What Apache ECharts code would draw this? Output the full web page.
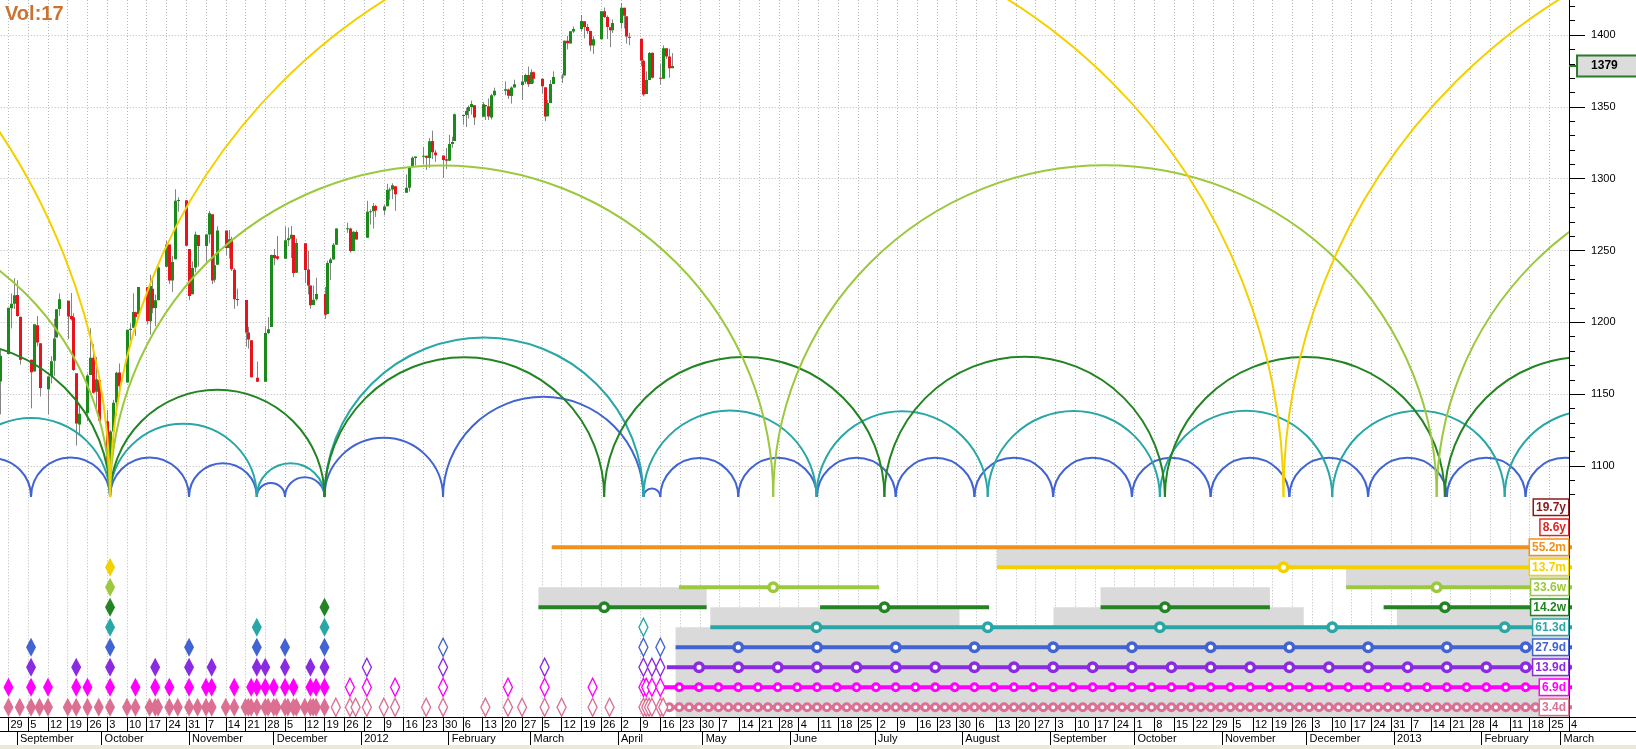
<!DOCTYPE html>
<html><head><meta charset="utf-8">
<script src="https://cdn.jsdelivr.net/npm/echarts@6/dist/echarts.min.js"></script>
<style>html,body{margin:0;padding:0;background:#fff;overflow:hidden}#c{width:1636px;height:749px}</style>
</head><body><div id="c"></div>
<script>
// ---------------- DATA ----------------
// day offsets are counted from this Monday
const ORIGIN = '2011-08-29';

// daily candles: [date, open, high, low, close]
const candles = [
['2011-08-26',1158.85,1181.23,1135.91,1176.80],['2011-08-29',1177.91,1210.08,1177.91,1210.08],['2011-08-30',1209.76,1220.10,1195.77,1212.92],
['2011-08-31',1213.00,1230.71,1209.35,1218.89],['2011-09-01',1219.12,1229.29,1203.85,1204.42],['2011-09-02',1203.90,1203.90,1170.56,1173.97],
['2011-09-06',1173.97,1173.97,1140.13,1165.24],['2011-09-07',1165.85,1198.62,1165.85,1198.62],['2011-09-08',1197.98,1204.40,1183.34,1185.90],
['2011-09-09',1185.37,1185.37,1148.37,1154.23],['2011-09-12',1153.50,1162.52,1136.07,1162.27],['2011-09-13',1162.59,1176.41,1157.44,1172.87],
['2011-09-14',1173.32,1202.38,1162.73,1188.68],['2011-09-15',1189.44,1209.11,1189.44,1209.11],['2011-09-16',1209.21,1220.06,1204.46,1216.01],
['2011-09-19',1214.99,1214.99,1188.36,1204.09],['2011-09-20',1204.50,1220.39,1201.29,1202.09],['2011-09-21',1203.63,1206.30,1166.21,1166.76],
['2011-09-22',1164.55,1164.55,1114.22,1129.56],['2011-09-23',1128.82,1141.72,1121.36,1136.43],['2011-09-26',1136.91,1164.19,1131.07,1162.95],
['2011-09-27',1163.32,1195.86,1163.32,1175.38],['2011-09-28',1175.39,1184.71,1150.40,1151.06],['2011-09-29',1151.74,1175.87,1139.93,1160.40],
['2011-09-30',1159.93,1159.93,1131.34,1131.42],['2011-10-03',1131.21,1138.99,1098.92,1099.23],['2011-10-04',1097.42,1125.12,1074.77,1123.95],
['2011-10-05',1124.03,1146.07,1115.68,1144.03],['2011-10-06',1144.11,1165.55,1134.95,1164.97],['2011-10-07',1165.03,1171.40,1150.26,1155.46],
['2011-10-10',1158.15,1194.91,1158.15,1194.89],['2011-10-11',1194.60,1199.24,1187.30,1195.54],['2011-10-12',1196.19,1220.25,1196.19,1207.25],
['2011-10-13',1206.96,1207.46,1190.58,1203.66],['2011-10-14',1205.65,1224.61,1205.65,1224.58],['2011-10-17',1224.47,1224.47,1198.55,1200.86],
['2011-10-18',1200.75,1233.10,1191.48,1225.38],['2011-10-19',1223.46,1229.64,1206.31,1209.88],['2011-10-20',1209.92,1219.36,1197.34,1215.39],
['2011-10-21',1215.39,1239.03,1215.39,1238.25],['2011-10-24',1238.72,1256.55,1238.72,1254.19],['2011-10-25',1254.19,1254.19,1226.79,1229.05],
['2011-10-26',1229.17,1246.28,1221.06,1242.00],['2011-10-27',1243.97,1292.66,1243.97,1284.59],['2011-10-28',1284.39,1287.08,1277.01,1285.09],
['2011-10-31',1284.96,1284.96,1253.16,1253.30],['2011-11-01',1251.00,1251.00,1215.42,1218.28],['2011-11-02',1219.62,1242.48,1219.62,1237.90],
['2011-11-03',1238.25,1263.21,1234.81,1261.15],['2011-11-04',1260.82,1260.82,1238.92,1253.23],['2011-11-07',1253.21,1261.70,1240.75,1261.12],
['2011-11-08',1261.12,1277.55,1254.99,1275.92],['2011-11-09',1275.18,1275.18,1226.64,1229.10],['2011-11-10',1229.59,1246.22,1227.70,1239.70],
['2011-11-11',1240.12,1266.98,1240.12,1263.85],['2011-11-14',1263.85,1263.85,1246.68,1251.78],['2011-11-15',1251.70,1264.25,1244.34,1257.81],
['2011-11-16',1257.81,1259.61,1235.67,1236.91],['2011-11-17',1236.56,1237.73,1209.43,1216.13],['2011-11-18',1216.19,1223.51,1211.36,1215.65],
['2011-11-21',1215.62,1215.62,1183.16,1192.98],['2011-11-22',1192.98,1196.81,1181.65,1188.04],['2011-11-23',1187.48,1187.48,1161.79,1161.79],
['2011-11-25',1161.41,1172.66,1158.66,1158.67],['2011-11-28',1158.67,1197.35,1158.67,1192.55],['2011-11-29',1192.56,1203.67,1191.80,1195.19],
['2011-11-30',1196.72,1247.11,1196.72,1246.96],['2011-12-01',1246.91,1251.09,1239.73,1244.58],['2011-12-02',1246.03,1260.08,1243.35,1244.28],
['2011-12-05',1244.33,1266.73,1244.33,1257.08],['2011-12-06',1257.19,1266.03,1253.03,1258.47],['2011-12-07',1258.14,1267.06,1244.80,1261.01],
['2011-12-08',1260.87,1260.87,1231.47,1234.35],['2011-12-09',1234.48,1258.25,1234.48,1255.19],['2011-12-12',1255.05,1255.05,1227.25,1236.47],
['2011-12-13',1236.83,1249.86,1219.43,1225.73],['2011-12-14',1225.73,1225.73,1209.47,1211.82],['2011-12-15',1212.12,1225.60,1212.12,1215.75],
['2011-12-16',1216.09,1231.04,1215.20,1219.66],['2011-12-19',1219.74,1224.57,1202.37,1205.35],['2011-12-20',1205.72,1242.82,1205.72,1241.30],
['2011-12-21',1241.25,1245.09,1229.51,1243.72],['2011-12-22',1243.72,1255.22,1243.72,1254.00],['2011-12-23',1254.00,1265.42,1254.00,1265.33],
['2011-12-27',1265.02,1269.37,1262.30,1265.43],['2011-12-28',1265.38,1265.85,1248.64,1249.64],['2011-12-29',1249.75,1263.54,1249.75,1263.02],
['2011-12-30',1262.82,1264.12,1257.46,1257.60],['2012-01-03',1258.86,1284.62,1258.86,1277.06],['2012-01-04',1277.03,1278.73,1268.10,1277.30],
['2012-01-05',1277.30,1283.05,1265.26,1281.06],['2012-01-06',1280.93,1281.84,1273.34,1277.81],['2012-01-09',1277.83,1281.99,1274.55,1280.70],
['2012-01-10',1280.77,1296.46,1280.77,1292.08],['2012-01-11',1292.02,1293.80,1285.41,1292.48],['2012-01-12',1292.48,1296.82,1285.77,1295.50],
['2012-01-13',1294.82,1294.82,1277.58,1289.09],['2012-01-17',1290.22,1303.00,1290.22,1293.67],['2012-01-18',1293.65,1308.11,1290.99,1308.04],
['2012-01-19',1308.07,1315.49,1308.07,1314.50],['2012-01-20',1314.49,1315.38,1309.17,1315.38],['2012-01-23',1315.29,1322.28,1309.89,1316.00],
['2012-01-24',1315.96,1315.96,1306.06,1314.65],['2012-01-25',1314.40,1328.30,1307.65,1326.06],['2012-01-26',1326.28,1333.47,1313.60,1318.43],
['2012-01-27',1318.25,1320.06,1311.72,1316.33],['2012-01-30',1316.16,1316.16,1300.49,1313.01],['2012-01-31',1313.53,1321.41,1306.69,1312.41],
['2012-02-01',1312.45,1330.52,1312.45,1324.09],['2012-02-02',1324.24,1329.19,1321.57,1325.54],['2012-02-03',1326.21,1345.34,1326.21,1344.90],
['2012-02-06',1344.32,1344.36,1337.52,1344.33],['2012-02-07',1344.33,1349.24,1335.92,1347.05],['2012-02-08',1347.04,1351.00,1341.95,1349.96],
['2012-02-09',1349.97,1354.32,1344.63,1351.95],['2012-02-10',1351.21,1351.21,1337.35,1342.64],['2012-02-13',1343.06,1353.35,1343.06,1351.77],
['2012-02-14',1351.30,1351.30,1340.83,1350.50],['2012-02-15',1350.52,1355.87,1340.80,1343.23],['2012-02-16',1342.61,1359.02,1341.22,1358.04],
['2012-02-17',1358.06,1363.40,1357.24,1361.23],['2012-02-21',1361.22,1367.76,1358.11,1362.21],['2012-02-22',1362.11,1362.70,1355.53,1357.66],
['2012-02-23',1357.53,1364.24,1352.28,1363.46],['2012-02-24',1363.46,1368.92,1363.46,1365.74],['2012-02-27',1365.20,1371.94,1354.92,1367.59],
['2012-02-28',1367.56,1373.09,1365.97,1372.18],['2012-02-29',1372.20,1378.04,1363.81,1365.68],['2012-03-01',1365.90,1376.17,1365.90,1374.09],
['2012-03-02',1374.09,1374.53,1366.42,1369.63],['2012-03-05',1369.59,1369.59,1359.13,1364.33],['2012-03-06',1363.63,1363.63,1340.03,1343.36],
['2012-03-07',1343.39,1354.85,1343.39,1352.63],['2012-03-08',1352.65,1368.72,1352.65,1365.91],['2012-03-09',1365.97,1374.76,1365.97,1370.87],
['2012-03-12',1370.78,1373.04,1366.69,1371.09],['2012-03-13',1371.92,1396.13,1371.92,1395.95],['2012-03-14',1395.95,1399.42,1389.97,1394.28],
['2012-03-15',1394.17,1402.63,1394.17,1402.60],['2012-03-16',1402.55,1405.88,1401.47,1404.17],['2012-03-19',1404.17,1414.00,1402.43,1409.75],
['2012-03-20',1409.59,1409.59,1397.68,1405.52],['2012-03-21',1405.52,1407.75,1400.64,1402.89],['2012-03-22',1402.89,1402.89,1388.73,1392.78],
['2012-03-23',1392.78,1399.18,1386.87,1397.11],['2012-03-26',1397.11,1416.58,1397.11,1416.51],['2012-03-27',1416.55,1419.15,1411.95,1412.52],
['2012-03-28',1412.52,1413.65,1397.20,1405.54],['2012-03-29',1405.39,1405.39,1391.56,1403.28],['2012-03-30',1403.31,1410.89,1401.42,1408.47],
['2012-04-02',1408.47,1422.38,1404.46,1419.04],['2012-04-03',1418.98,1419.00,1404.62,1413.38],['2012-04-04',1413.09,1413.09,1394.09,1398.96],
['2012-04-05',1398.79,1401.60,1392.92,1398.08],['2012-04-09',1397.45,1397.45,1378.24,1382.20],['2012-04-10',1382.18,1383.01,1357.38,1358.59],
['2012-04-11',1358.98,1374.71,1358.98,1368.71],['2012-04-12',1368.77,1388.13,1368.77,1387.57],['2012-04-13',1387.61,1387.61,1369.85,1370.26],
['2012-04-16',1370.27,1379.66,1365.38,1369.57],['2012-04-17',1369.57,1392.76,1369.57,1390.78],['2012-04-18',1390.78,1390.78,1383.29,1385.14],
['2012-04-19',1385.08,1390.46,1370.30,1376.92],['2012-04-20',1376.96,1387.40,1376.96,1378.53]
];

// price axis
const priceMin = 1078.2, priceMax = 1424.4;
const priceLabels = [1100, 1150, 1200, 1250, 1300, 1350, 1400];
const priceMinorTicks = [1080,1090,1100,1110,1120,1130,1140,1150,1160,1170,1180,1190,1200,1210,1220,1230,1240,1250,1260,1270,1280,1290,1300,1310,1320,1330,1340,1350,1360,1370,1380,1390,1400,1410,1420];
const arcBase = 1078.4;

// cycle troughs (day offsets from ORIGIN); arcs join consecutive troughs
const troughs13_7m = [-430, 36, 451.8, 867.5];
const troughs33_6w = [-167.4, 36, 271.0, 506.1, 741.0];
const troughs14_2w = [-73.5, 36, 112, 211.1, 310.4, 409.8, 509.0, 608.3];
const troughs61_3d = [-20, 36, 88, 112, 225, 286.3, 347.0, 408.0, 469.1, 530.2, 591.4];
const troughs27_9d = [-19.5, 8, 36, 64, 88, 98, 112, 154, 225, 231, 258.6, 286.5, 314.4, 342.3, 370.2, 398.1, 426.0, 453.9, 481.8, 509.7, 537.6, 565.5];

// lower panel rows
const rowLabels = ['19.7y','8.6y','55.2m','13.7m','33.6w','14.2w','61.3d','27.9d','13.9d','6.9d','3.4d'];
const rowColors = ['#8b1a1a','#e02424','#f0911e','#f5d000','#9bc83c','#238423','#29a6a6','#4164d2','#8a2be2','#ff00ff','#db7093'];

// projection segments: [row, start, end]
const segments = [
 [2, 192.5, 560], [3, 350.3, 560],
 [4, 237.6, 308.5], [4, 474.0, 560],
 [5, 187.8, 247.4], [5, 287.6, 347.5], [5, 387.0, 447.0], [5, 487.3, 560],
 [6, 248.7, 560], [7, 236.4, 560], [8, 233.3, 560], [9, 231.7, 560], [10, 232.9, 560]
];
// grey windows: [fromRow, toRow, start, end]
const greyBands = [
 [2, 3, 350.3, 560], [3, 4, 474.0, 560],
 [4, 5, 187.8, 247.4], [4, 5, 387.0, 447.0],
 [5, 6, 248.7, 337.0], [5, 6, 370.3, 459.0], [5, 6, 492.0, 560],
 [6, 10.5, 236.4, 560]
];
// projected trough rings per row
const ring13_7m = [451.8];
const ring33_6w = [271.0, 506.1];
const ring14_2w = [211.1, 310.4, 409.8, 509.0];
const ring61_3d = [286.3, 347.0, 408.0, 469.1, 530.2];
const ring27_9d = [258.6,286.5,314.4,342.3,370.2,398.1,426.0,453.9,481.8,509.7,537.6];
const ring13_9d = [244.7,258.6,272.6,286.5,300.5,314.4,328.4,342.3,356.3,370.2,384.2,398.1,412.1,426.0,440.0,453.9,467.9,481.8,495.8,509.7,523.7,537.6,551.6];
const ring6_9d = [237.7,244.7,251.6,258.6,265.6,272.6,279.5,286.5,293.5,300.5,307.4,314.4,321.4,328.4,335.3,342.3,349.3,356.3,363.2,370.2,377.2,384.2,391.1,398.1,405.1,412.1,419.0,426.0,433.0,440.0,446.9,453.9,460.9,467.9,474.8,481.8,488.8,495.8,502.7,509.7,516.7,523.7,530.6,537.6,544.6,551.6];
const ring3_4d = [234.2,237.7,241.2,244.7,248.1,251.6,255.1,258.6,262.1,265.6,269.1,272.6,276.0,279.5,283.0,286.5,290.0,293.5,297.0,300.5,303.9,307.4,310.9,314.4,317.9,321.4,324.9,328.4,331.8,335.3,338.8,342.3,345.8,349.3,352.8,356.3,359.7,363.2,366.7,370.2,373.7,377.2,380.7,384.2,387.6,391.1,394.6,398.1,401.6,405.1,408.6,412.1,415.5,419.0,422.5,426.0,429.5,433.0,436.5,440.0,443.4,446.9,450.4,453.9,457.4,460.9,464.4,467.9,471.3,474.8,478.3,481.8,485.3,488.8,492.3,495.8,499.2,502.7,506.2,509.7,513.2,516.7,520.2,523.7,527.1,530.6,534.1,537.6,541.1,544.6,548.1,551.6];

// past trough diamonds (filled = confirmed, hollow = tentative)
const dia13_7mFilled = ['2011-10-04'];
const dia33_6wFilled = ['2011-10-04'];
const dia14_2wFilled = ['2011-10-04','2011-12-19'];
const dia61_3dFilled = ['2011-10-04','2011-11-25','2011-12-19'];
const dia27_9dFilled = ['2011-09-06','2011-10-04','2011-11-01','2011-11-25','2011-12-05','2011-12-19'];
const dia13_9dFilled = ['2011-09-06','2011-09-22','2011-10-04','2011-10-20','2011-11-01','2011-11-09','2011-11-25','2011-11-28','2011-12-05','2011-12-14','2011-12-19'];
const dia6_9dFilled = ['2011-08-29','2011-09-06','2011-09-12','2011-09-22','2011-09-26','2011-10-04','2011-10-13','2011-10-20','2011-10-25','2011-11-01','2011-11-07','2011-11-09','2011-11-17','2011-11-23','2011-11-25','2011-11-28','2011-12-01','2011-12-05','2011-12-08','2011-12-14','2011-12-16','2011-12-19'];
const dia3_4dFilled = ['2011-08-29','2011-09-02','2011-09-06','2011-09-09','2011-09-12','2011-09-19','2011-09-22','2011-09-26','2011-09-30','2011-10-04','2011-10-10','2011-10-13','2011-10-18','2011-10-20','2011-10-21','2011-10-25','2011-10-28','2011-11-01','2011-11-04','2011-11-07','2011-11-09','2011-11-14','2011-11-17','2011-11-21','2011-11-22','2011-11-23','2011-11-25','2011-11-28','2011-11-29','2011-12-01','2011-12-02','2011-12-05','2011-12-06','2011-12-08','2011-12-09','2011-12-12','2011-12-14','2011-12-15','2011-12-16','2011-12-19'];
const dia61_3dHollow = ['2012-04-10'];
const dia27_9dHollow = ['2012-01-30','2012-04-10','2012-04-16'];
const dia13_9dHollow = ['2012-01-03','2012-01-30','2012-03-06','2012-04-10','2012-04-13','2012-04-16'];
const dia6_9dHollow = ['2011-12-28','2012-01-03','2012-01-13','2012-01-30','2012-02-22','2012-03-06','2012-03-23','2012-04-10','2012-04-11','2012-04-13','2012-04-16'];
const dia3_4dHollow = ['2011-12-23','2011-12-28','2011-12-30','2012-01-03','2012-01-09','2012-01-13','2012-01-24','2012-01-30','2012-02-14','2012-02-22','2012-02-27','2012-03-06','2012-03-12','2012-03-23','2012-03-29','2012-04-10','2012-04-11','2012-04-12','2012-04-13','2012-04-16','2012-04-17'];

// axis labels
const monthStarts = ['2011-09-01','2011-10-01','2011-11-01','2011-12-01','2012-01-01','2012-02-01','2012-03-01','2012-04-01','2012-05-01','2012-06-01','2012-07-01','2012-08-01','2012-09-01','2012-10-01','2012-11-01','2012-12-01','2013-01-01','2013-02-01','2013-03-01'];
const monthNames = ['January','February','March','April','May','June','July','August','September','October','November','December'];
const titleText = 'Vol:17';

// ---------------- BUILD ----------------
const MS = 864e5;
const O = Date.UTC(2011, 7, 29);
function D(s) { if (typeof s === 'number') return s; const p = s.split('-').map(Number); return (Date.UTC(p[0], p[1]-1, p[2]) - O) / MS; }
function dateOf(v) { return new Date(O + v * MS); }
const X_MIN = -7, X_MAX = 553;
const PX_DAY = 2.822;
const GRID_LEFT = -4 * PX_DAY;           // axis min falls just off-canvas
const GRID_W = (X_MAX - X_MIN) * PX_DAY; // right edge at 1569
const FONT = 'Arial, "Liberation Sans", sans-serif';

function clipRect(cs) { return {type: 'rect', shape: {x: cs.x, y: cs.y, width: cs.width, height: cs.height}}; }

const series = [];

// candles
series.push({
  type: 'custom', name: 'price', xAxisIndex: 0, yAxisIndex: 0, z: 2, silent: true,
  encode: {x: 0, y: [1, 2, 3, 4]},
  data: candles.map(r => [D(r[0]), r[1], r[4], r[3], r[2]]),
  renderItem(params, api) {
    const x = api.value(0), o = api.value(1), c = api.value(2), l = api.value(3), h = api.value(4);
    const pO = api.coord([x, o]), pC = api.coord([x, c]), pL = api.coord([x, l]), pH = api.coord([x, h]);
    const cx = Math.round(pO[0]);
    const top = Math.min(pO[1], pC[1]), bot = Math.max(pO[1], pC[1]);
    return {type: 'group', clipPath: clipRect(params.coordSys), children: [
      {type: 'line', shape: {x1: cx + 0.5, y1: pH[1], x2: cx + 0.5, y2: pL[1]}, style: {stroke: '#858585', lineWidth: 1}},
      {type: 'rect', shape: {x: cx - 1, y: top, width: 3, height: Math.max(1, bot - top)}, style: {fill: c >= o ? '#1a8a1a' : '#e8141c'}}
    ]};
  }
});

// arcs
function arcSeries(name, troughs, color, z) {
  const data = [];
  for (let i = 0; i < troughs.length - 1; i++) data.push([troughs[i], troughs[i + 1]]);
  return {
    type: 'custom', name, xAxisIndex: 0, yAxisIndex: 0, z, silent: true,
    encode: {x: [0, 1]}, data,
    renderItem(params, api) {
      const a = api.coord([api.value(0), arcBase]);
      const b = api.coord([api.value(1), arcBase]);
      return {type: 'group', clipPath: clipRect(params.coordSys), children: [{
        type: 'arc',
        shape: {cx: (a[0] + b[0]) / 2, cy: a[1], r: (b[0] - a[0]) / 2, startAngle: Math.PI, endAngle: Math.PI * 2, clockwise: true},
        style: {stroke: color, lineWidth: 2, fill: null}
      }]};
    }
  };
}
series.push(arcSeries('27.9d', troughs27_9d, rowColors[7], 3));
series.push(arcSeries('61.3d', troughs61_3d, rowColors[6], 4));
series.push(arcSeries('14.2w', troughs14_2w, rowColors[5], 5));
series.push(arcSeries('33.6w', troughs33_6w, rowColors[4], 6));
series.push(arcSeries('13.7m', troughs13_7m, rowColors[3], 7));

// grey windows
series.push({
  type: 'custom', name: 'windows', xAxisIndex: 1, yAxisIndex: 3, z: 1, silent: true,
  encode: {x: [2, 3], y: [0]}, data: greyBands,
  renderItem(params, api) {
    const bandH = api.size([0, 1])[1];
    const top0 = api.coord([0, 0])[1] - bandH / 2;
    const yf = r => top0 + (r + 0.5) * bandH;
    const x0 = api.coord([api.value(2), 0])[0], x1 = api.coord([api.value(3), 0])[0];
    const y0 = yf(api.value(0)), y1 = yf(api.value(1));
    return {type: 'rect', clipPath: clipRect(params.coordSys), shape: {x: x0, y: y0, width: x1 - x0, height: y1 - y0}, style: {fill: '#dadada'}};
  }
});

// projection lines
segments.forEach(s => {
  series.push({type: 'line', xAxisIndex: 1, yAxisIndex: 3, z: 2, silent: true, symbol: 'none',
    data: [[s[1], s[0]], [s[2], s[0]]], lineStyle: {color: rowColors[s[0]], width: 4}});
});

// rings
const ringRows = [[3, ring13_7m], [4, ring33_6w], [5, ring14_2w], [6, ring61_3d], [7, ring27_9d], [8, ring13_9d], [9, ring6_9d], [10, ring3_4d]];
ringRows.forEach(([row, arr]) => {
  const small = row >= 9;
  series.push({type: 'scatter', xAxisIndex: 1, yAxisIndex: 3, z: 3, silent: true,
    symbol: 'circle', symbolSize: small ? 7 : 8.5,
    itemStyle: {color: '#fff', borderColor: rowColors[row], borderWidth: small ? 3 : 3.5, opacity: 1},
    data: arr.map(v => [v, row])});
});

// diamonds
const diaRows = [
  [3, dia13_7mFilled, []], [4, dia33_6wFilled, []], [5, dia14_2wFilled, []],
  [6, dia61_3dFilled, dia61_3dHollow], [7, dia27_9dFilled, dia27_9dHollow],
  [8, dia13_9dFilled, dia13_9dHollow], [9, dia6_9dFilled, dia6_9dHollow], [10, dia3_4dFilled, dia3_4dHollow]
];
diaRows.forEach(([row, filled, hollow]) => {
  series.push({type: 'scatter', xAxisIndex: 1, yAxisIndex: 3, z: 5, silent: true,
    symbol: 'diamond', symbolSize: [10, 19],
    itemStyle: {color: rowColors[row], opacity: 1},
    data: filled.map(d => [D(d), row])});
  if (hollow.length) series.push({type: 'scatter', xAxisIndex: 1, yAxisIndex: 3, z: 5, silent: true,
    symbol: 'diamond', symbolSize: [9, 18],
    itemStyle: {color: '#fff', borderColor: rowColors[row], borderWidth: 1.5, opacity: 1},
    data: hollow.map(d => [D(d), row])});
});

const lastClose = candles[candles.length - 1][4];
const rich = {};
rowLabels.forEach((l, i) => {
  rich['r' + i] = {color: rowColors[i], fontWeight: 'bold', fontSize: 12, fontFamily: FONT,
    backgroundColor: '#fff', borderColor: rowColors[i], borderWidth: 1.5, padding: [2, 2, 1, 2]};
});

const dotted = {show: true, lineStyle: {color: '#b9b9b9', type: [1, 2], width: 1}};

const option = {
  animation: false,
  backgroundColor: '#fff',
  title: {text: titleText, left: 5, top: 4, padding: 0, textStyle: {color: '#cd7332', fontSize: 20, fontWeight: 'bold', fontFamily: FONT}},
  grid: [
    {left: GRID_LEFT, width: GRID_W, top: 0, height: 497.3, containLabel: false, outerBoundsMode: 'none'},
    {left: GRID_LEFT, width: GRID_W, top: 497.3, height: 220, containLabel: false, outerBoundsMode: 'none'}
  ],
  xAxis: [
    {type: 'value', gridIndex: 0, min: X_MIN, max: X_MAX, interval: 7,
      axisLine: {show: false, onZero: false}, axisTick: {show: false}, axisLabel: {show: false}, splitLine: dotted},
    {type: 'value', gridIndex: 1, min: X_MIN, max: X_MAX, interval: 7, position: 'bottom',
      axisLine: {show: false, onZero: false}, axisTick: {show: true, length: 14, lineStyle: {color: '#000'}},
      axisLabel: {show: true, showMinLabel: true, showMaxLabel: true, align: 'left', margin: 2, padding: [0, 0, 0, 2],
        color: '#000', fontSize: 11, fontFamily: FONT, formatter: v => v < 0 ? '' : String(dateOf(v).getUTCDate())},
      splitLine: dotted},
    {type: 'value', gridIndex: 1, min: X_MIN, max: X_MAX, position: 'bottom', offset: 14,
      axisLine: {show: false, onZero: false},
      axisTick: {show: true, length: 18, customValues: monthStarts.map(D), lineStyle: {color: '#000'}},
      axisLabel: {show: true, customValues: monthStarts.map(D), align: 'left', margin: 2, padding: [0, 0, 0, 3],
        color: '#000', fontSize: 11, fontFamily: FONT,
        formatter: v => { const d = dateOf(v); return d.getUTCMonth() === 0 ? String(d.getUTCFullYear()) : monthNames[d.getUTCMonth()]; }},
      splitLine: {show: false}}
  ],
  yAxis: [
    {type: 'value', gridIndex: 0, position: 'right', min: priceMin, max: priceMax,
      axisLine: {show: true, onZero: false, lineStyle: {color: '#000', width: 1}},
      axisTick: {show: true, length: 16, customValues: priceLabels, lineStyle: {color: '#000'}},
      axisLabel: {show: true, customValues: priceLabels, margin: 22, color: '#000', fontSize: 11, fontFamily: FONT, formatter: v => String(v)},
      splitLine: dotted},
    {type: 'value', gridIndex: 0, position: 'right', min: priceMin, max: priceMax,
      axisLine: {show: false, onZero: false},
      axisTick: {show: true, length: 6, customValues: priceMinorTicks, lineStyle: {color: '#000'}},
      axisLabel: {show: false}, splitLine: {show: false}},
    {type: 'value', gridIndex: 0, position: 'right', min: priceMin, max: priceMax, z: 10,
      axisLine: {show: false, onZero: false},
      axisTick: {show: true, length: 9, customValues: [lastClose], lineStyle: {color: '#2a7a2a', width: 2}},
      axisLabel: {show: true, customValues: [lastClose], margin: 9, formatter: v => String(Math.round(v)),
        color: '#000', fontWeight: 'bold', fontSize: 12, fontFamily: FONT,
        backgroundColor: '#dcdcdc', borderColor: '#2a7a2a', borderWidth: 2, padding: [4, 24, 3, 13]},
      splitLine: {show: false}},
    {type: 'category', gridIndex: 1, position: 'right', inverse: true, data: rowLabels, z: 10,
      axisLine: {show: true, onZero: false, lineStyle: {color: '#000', width: 1}},
      axisTick: {show: false},
      axisLabel: {show: true, inside: true, margin: 1, formatter: (v, i) => '{r' + i + '|' + v + '}', rich},
      splitLine: {show: false}}
  ],
  graphic: [
    {type: 'line', shape: {x1: 0, y1: 717.5, x2: 1636, y2: 717.5}, style: {stroke: '#000', lineWidth: 1}, z: 100},
    {type: 'line', shape: {x1: 0, y1: 731.5, x2: 1636, y2: 731.5}, style: {stroke: '#000', lineWidth: 1}, z: 100},
    {type: 'rect', shape: {x: 0, y: 745, width: 1636, height: 4}, style: {fill: '#ece9d8'}, z: 100}
  ],
  series
};

const chart = echarts.init(document.getElementById('c'), null, {renderer: 'canvas'});
chart.setOption(option);
</script>
</body></html>
